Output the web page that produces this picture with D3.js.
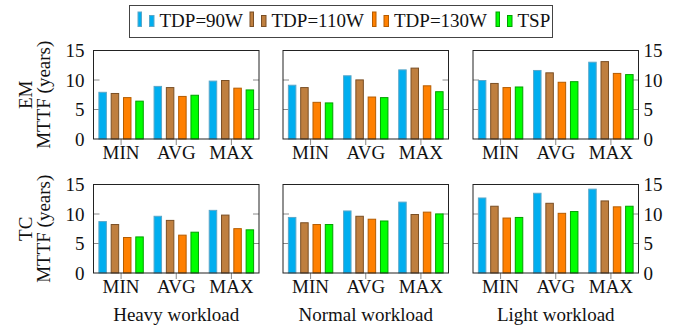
<!DOCTYPE html>
<html>
<head>
<meta charset="utf-8">
<script src="https://cdn.jsdelivr.net/npm/d3@7"></script>
<style>
  body { margin: 0; background: #fff; }
  text { font-family: "Liberation Serif", "Times New Roman", serif; fill: #111; }
</style>
</head>
<body>
<script>
const width = 673;
const height = 325;

// Data (MTTF in years).
const series = ["TDP=90W", "TDP=110W", "TDP=130W", "TSP"];
const categories = ["MIN", "AVG", "MAX"];
const workloads = ["Heavy workload", "Normal workload", "Light workload"];
const metrics = ["EM", "TC"];
const yTicks = [0, 5, 10, 15];

// rows = MIN, AVG, MAX ; columns = series
const emHeavy  = [[8.0, 7.8, 7.1, 6.5], [9.0, 8.8, 7.3, 7.5], [9.9, 10.0, 8.7, 8.4]];
const emNormal = [[9.2, 8.8, 6.3, 6.2], [10.8, 10.1, 7.2, 7.1], [11.8, 12.1, 9.1, 8.1]];
const emLight  = [[10.0, 9.5, 8.8, 8.9], [11.7, 11.3, 9.7, 9.8], [13.1, 13.2, 11.2, 11.0]];
const tcHeavy  = [[8.8, 8.3, 6.1, 6.2], [9.7, 9.0, 6.5, 7.0], [10.7, 9.9, 7.6, 7.4]];
const tcNormal = [[9.5, 8.6, 8.3, 8.3], [10.6, 9.7, 9.2, 8.9], [12.1, 10.0, 10.4, 10.1]];
const tcLight  = [[12.8, 11.4, 9.4, 9.5], [13.6, 11.9, 10.2, 10.5], [14.3, 12.3, 11.3, 11.4]];

const panelValues = [
  [emHeavy, emNormal, emLight],
  [tcHeavy, tcNormal, tcLight]
];

const fills   = ["#00aeef", "#bf7f3f", "#ff8000", "#00ff00"];
const strokes = ["#5aa7c9", "#7a4f25", "#b55c00", "#00a000"];

const fontSize = 19;

const svg = d3.select("body").append("svg")
  .attr("width", width)
  .attr("height", height);

// Panel geometry
const panelLefts = [93.5, 283, 473];
const panelW = 165.5;
const rowTops = [50.5, 184.5];
const panelH = 88.5;

const x = d3.scaleBand().domain(categories).range([0, panelW]);
const barStep = 12.3;
const inner = d3.scaleBand().domain(series)
  .range([-2 * barStep, 2 * barStep])
  .paddingInner(0.31)
  .paddingOuter(0.155);

metrics.forEach((metric, r) => {
  const y = d3.scaleLinear().domain([0, 15]).range([rowTops[r] + panelH, rowTops[r]]);

  workloads.forEach((wl, c) => {
    const g = svg.append("g").attr("transform", `translate(${panelLefts[c]},0)`);
    const vals = panelValues[r][c];

    // y ticks inside on both sides
    yTicks.filter(t => t > 0 && t < 15).forEach(t => {
      g.append("line").attr("x1", 0).attr("x2", 6).attr("y1", y(t)).attr("y2", y(t))
        .attr("stroke", "#8a8a8a");
      g.append("line").attr("x1", panelW - 6).attr("x2", panelW).attr("y1", y(t)).attr("y2", y(t))
        .attr("stroke", "#8a8a8a");
    });

    // bars
    categories.forEach((cat, ci) => {
      const cx = x(cat) + x.bandwidth() / 2;
      g.selectAll(null)
        .data(vals[ci])
        .enter()
        .append("rect")
        .attr("x", (d, i) => cx + inner(series[i]) + 0.5)
        .attr("y", d => y(d) + 0.5)
        .attr("width", inner.bandwidth() - 1)
        .attr("height", d => y(0) - y(d) - 0.5)
        .attr("fill", (d, i) => fills[i])
        .attr("stroke", (d, i) => strokes[i])
        .attr("stroke-width", 1);

      // x tick below axis
      g.append("line").attr("x1", cx).attr("x2", cx)
        .attr("y1", y(0)).attr("y2", y(0) + 6)
        .attr("stroke", "#8a8a8a");

      g.append("text")
        .attr("x", cx)
        .attr("y", y(0) + 20)
        .attr("text-anchor", "middle")
        .style("font-size", fontSize + "px")
        .text(cat);
    });

    // frame
    g.append("rect")
      .attr("x", 0).attr("y", rowTops[r])
      .attr("width", panelW).attr("height", panelH)
      .attr("fill", "none")
      .attr("stroke", "#222")
      .attr("stroke-width", 1);

    // tick labels on outer panels
    if (c === 0) {
      yTicks.forEach(t => {
        g.append("text")
          .attr("x", -9).attr("y", y(t)).attr("dy", "0.35em")
          .attr("text-anchor", "end")
          .style("font-size", fontSize + "px")
          .text(t);
      });
    }
    if (c === 2) {
      yTicks.forEach(t => {
        g.append("text")
          .attr("x", panelW + 5).attr("y", y(t)).attr("dy", "0.35em")
          .attr("text-anchor", "start")
          .style("font-size", fontSize + "px")
          .text(t);
      });
    }

    // workload titles under bottom row
    if (r === 1) {
      g.append("text")
        .attr("x", panelW / 2).attr("y", 321)
        .attr("text-anchor", "middle")
        .style("font-size", fontSize + "px")
        .text(wl);
    }
  });

  // row labels (rotated)
  const cy = rowTops[r] + panelH / 2;
  svg.append("text")
    .attr("transform", `translate(31.5,${cy}) rotate(-90)`)
    .attr("text-anchor", "middle")
    .style("font-size", fontSize + "px")
    .text(metric);
  svg.append("text")
    .attr("transform", `translate(49.5,${cy}) rotate(-90)`)
    .attr("text-anchor", "middle")
    .style("font-size", fontSize + "px")
    .text("MTTF (years)");
});

// Legend
const legend = svg.append("g");
legend.append("rect")
  .attr("x", 129.5).attr("y", 5.5)
  .attr("width", 423).attr("height", 32)
  .attr("fill", "#fff")
  .attr("stroke", "#444");

const legendX = [137.5, 249.5, 372, 495.5];
series.forEach((s, i) => {
  const lx = legendX[i];
  legend.append("rect")
    .attr("x", lx + 0.5).attr("y", 12)
    .attr("width", 3.5).attr("height", 14.5)
    .attr("fill", fills[i]).attr("stroke", strokes[i]);
  legend.append("rect")
    .attr("x", lx + 12).attr("y", 15.5)
    .attr("width", 4.5).attr("height", 11)
    .attr("fill", fills[i]).attr("stroke", strokes[i]);
  legend.append("text")
    .attr("x", lx + 22).attr("y", 26.7)
    .style("font-size", fontSize + "px")
    .text(s);
});
</script>
</body>
</html>
